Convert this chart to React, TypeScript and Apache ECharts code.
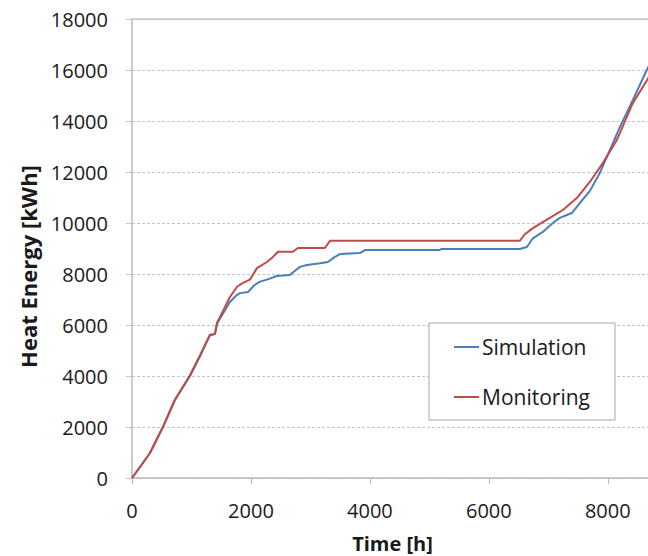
import React, { useEffect, useRef } from "react";
import * as echarts from "echarts";

const seriesNames = ["Simulation", "Monitoring"];
const axisTitles = { x: "Time [h]", y: "Heat Energy [kWh]" };

const simTime = [0, 150, 303, 521, 723, 975, 1150, 1311, 1395, 1429, 1530, 1647, 1750, 1815, 1950, 2050, 2151, 2269, 2437, 2655, 2750, 2824, 2941, 3160, 3294, 3400, 3496, 3832, 3916, 5176, 5200, 6521, 6639, 6740, 6908, 7076, 7193, 7311, 7395, 7529, 7697, 7866, 8034, 8202, 8420, 8655, 8760];
const simEnergy = [0, 480, 980, 2000, 3060, 4000, 4800, 5600, 5650, 6050, 6450, 6900, 7150, 7250, 7290, 7550, 7700, 7780, 7920, 7960, 8150, 8280, 8350, 8420, 8470, 8650, 8780, 8820, 8940, 8940, 8980, 8980, 9060, 9400, 9650, 10000, 10200, 10314, 10392, 10784, 11250, 11960, 12860, 13760, 14820, 16000, 16450];

const monTime = [0, 150, 303, 521, 723, 975, 1150, 1311, 1395, 1429, 1530, 1647, 1765, 1866, 1983, 2101, 2269, 2370, 2454, 2706, 2790, 3244, 3328, 6521, 6600, 6740, 7025, 7244, 7479, 7697, 7916, 8151, 8420, 8672, 8760];
const monEnergy = [0, 480, 990, 2010, 3080, 4030, 4850, 5620, 5650, 6080, 6550, 7100, 7500, 7650, 7780, 8230, 8470, 8670, 8870, 8870, 9020, 9020, 9300, 9300, 9550, 9800, 10200, 10510, 10980, 11610, 12350, 13250, 14700, 15650, 15950];

const xMin = 0;
const xMax = 8760;
const xStep = 2000;
const yMin = 0;
const yMax = 18000;
const yStep = 2000;

const FONT = "'Open Sans', sans-serif";

export default function App() {
  const ref = useRef<HTMLDivElement>(null);
  useEffect(() => {
    document.body.style.margin = "0";
    const chart = echarts.init(ref.current!, null, { renderer: "svg" });
    const simData = simTime.map((t, i) => [t, simEnergy[i]]);
    const monData = monTime.map((t, i) => [t, monEnergy[i]]);
    chart.setOption({
      animation: false,
      backgroundColor: "#ffffff",
      textStyle: { fontFamily: FONT },
      grid: { left: 132, top: 19, width: 521, height: 459, containLabel: false, outerBoundsMode: "none" },
      legend: {
        orient: "vertical",
        left: 429,
        top: 323,
        padding: [12, 25, 11, 25],
        itemGap: 26,
        itemWidth: 25,
        itemHeight: 2,
        icon: "rect",
        borderColor: "#a6a6a6",
        borderWidth: 1,
        backgroundColor: "#ffffff",
        textStyle: { fontFamily: FONT, fontSize: 21, color: "#1a1a1a", lineHeight: 24, padding: [0, 0, 0, -2] },
        data: seriesNames,
      },
      xAxis: [
        {
          type: "value",
          min: xMin,
          max: xMax,
          interval: xStep,
          name: axisTitles.x,
          nameLocation: "middle",
          nameGap: 55,
          nameTextStyle: { fontFamily: FONT, fontSize: 20, fontWeight: "bold", color: "#1a1a1a" },
          axisLine: { show: true, lineStyle: { color: "#b8b8b8", width: 1.5 } },
          axisTick: { show: true, length: 6, lineStyle: { color: "#b8b8b8" } },
          axisLabel: {
            fontFamily: FONT,
            fontSize: 20,
            color: "#1a1a1a",
            margin: 22,
            showMaxLabel: false,
            formatter: (v: number) => (v % xStep === 0 ? String(v) : ""),
          },
          splitLine: { show: false },
        },
        {
          type: "value",
          position: "top",
          min: xMin,
          max: xMax,
          axisLine: { show: true, lineStyle: { color: "#c4c4c4", width: 1.5 } },
          axisTick: { show: false },
          axisLabel: { show: false },
          splitLine: { show: false },
        },
      ],
      yAxis: {
        type: "value",
        min: yMin,
        max: yMax,
        interval: yStep,
        name: axisTitles.y,
        nameLocation: "middle",
        nameGap: 93,
        nameTextStyle: { fontFamily: FONT, fontSize: 22, fontWeight: "bold", color: "#1a1a1a", padding: [0, 36, 0, 0] },
        axisLine: { show: true, lineStyle: { color: "#b8b8b8", width: 1.5 } },
        axisTick: { show: true, length: 6, lineStyle: { color: "#c4c4c4" } },
        axisLabel: { fontFamily: FONT, fontSize: 20, color: "#1a1a1a", margin: 24, formatter: (v: number) => String(v) },
        splitLine: { show: true, lineStyle: { color: "#c4c4c4", type: [3, 2], width: 1 } },
      },
      series: [
        {
          name: seriesNames[0],
          type: "line",
          xAxisIndex: 0,
          data: simData,
          symbol: "none",
          lineStyle: { color: "#4a7ebb", width: 2 },
          itemStyle: { color: "#4a7ebb" },
          z: 3,
        },
        {
          name: seriesNames[1],
          type: "line",
          xAxisIndex: 0,
          data: monData,
          symbol: "none",
          lineStyle: { color: "#be4b48", width: 2 },
          itemStyle: { color: "#be4b48" },
          z: 4,
        },
      ],
    });
    return () => chart.dispose();
  }, []);
  return <div ref={ref} style={{ position: "absolute", left: 0, top: 0, width: 648, height: 556 }} />;
}
